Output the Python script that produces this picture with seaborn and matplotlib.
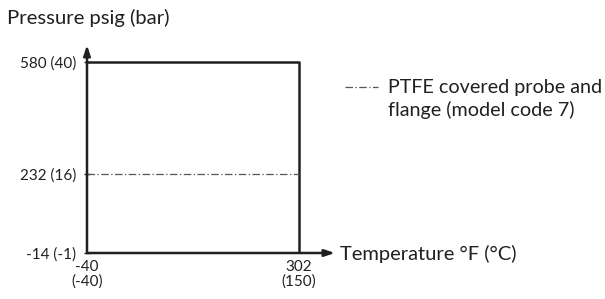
import matplotlib
matplotlib.use("Agg")
import matplotlib.pyplot as plt
import seaborn as sns

# temperature limits, degF / degC
temp_f = [-40, 302]
temp_c = [-40, 150]
# pressure limits, psig / bar
press_psig = [-14, 232, 580]
press_bar = [-1, 16, 40]

# operating envelope (standard) and PTFE covered probe limit
env_x = [temp_f[0], temp_f[1], temp_f[1]]
env_y = [press_psig[2], press_psig[2], press_psig[0]]
ptfe_x = [temp_f[0], temp_f[1]]
ptfe_y = [press_psig[1], press_psig[1]]

sns.set_style("white")
plt.rcParams['font.family'] = ['Lato', 'DejaVu Sans']
ink = '#231f20'
dash = (0, (6, 2, 1, 2))

fig = plt.figure(figsize=(6.05, 2.99), dpi=100)
ax = fig.add_axes([87 / 605, 46 / 299, 248 / 605, 208 / 299])

sns.lineplot(x=env_x, y=env_y, sort=False, estimator=None, color=ink, linewidth=1.8, ax=ax)
sns.lineplot(x=ptfe_x, y=ptfe_y, sort=False, estimator=None, color='#555555', linewidth=0.9,
             linestyle=dash, ax=ax)

ax.set_xlim(-40, 360)
ax.set_ylim(-14, 633)
for s in ax.spines.values():
    s.set_visible(False)

# axis arrows
arrow = dict(arrowstyle='-|>,head_length=0.6,head_width=0.2', color=ink, lw=1.8,
             shrinkA=0, shrinkB=0)
ax.annotate('', xy=(1, 0), xytext=(0, 0), xycoords='axes fraction', arrowprops=arrow)
ax.annotate('', xy=(0, 1), xytext=(0, 0), xycoords='axes fraction', arrowprops=arrow)

ax.set_yticks(press_psig)
ax.set_yticklabels([f"{p} ({b})" for p, b in zip(press_psig, press_bar)], fontsize=11, color=ink)
ax.set_xticks(temp_f)
ax.set_xticklabels([f"{f}\n({c})" for f, c in zip(temp_f, temp_c)], fontsize=11, color=ink,
                   linespacing=1.0)
ax.tick_params(axis='y', direction='inout', length=5, width=1, color=ink, pad=5, left=True)
ax.tick_params(axis='x', length=0, pad=5)

fig.text(7 / 605, 1 - 18 / 299, "Pressure psig (bar)", fontsize=14.6, color=ink, va='center')
fig.text(340 / 605, 1 - 254 / 299, "Temperature °F (°C)", fontsize=14.5, color=ink, va='center')

# legend
fig.add_artist(plt.Line2D([345 / 605, 378 / 605], [1 - 87 / 299, 1 - 87 / 299], color='#555555',
                          lw=0.9, linestyle=dash))
fig.text(388 / 605, 1 - 87 / 299, "PTFE covered probe and", fontsize=14.2, color=ink, va='center')
fig.text(388 / 605, 1 - 110 / 299, "flange (model code 7)", fontsize=14.2, color=ink, va='center')

fig.savefig("out.png", dpi=100)
